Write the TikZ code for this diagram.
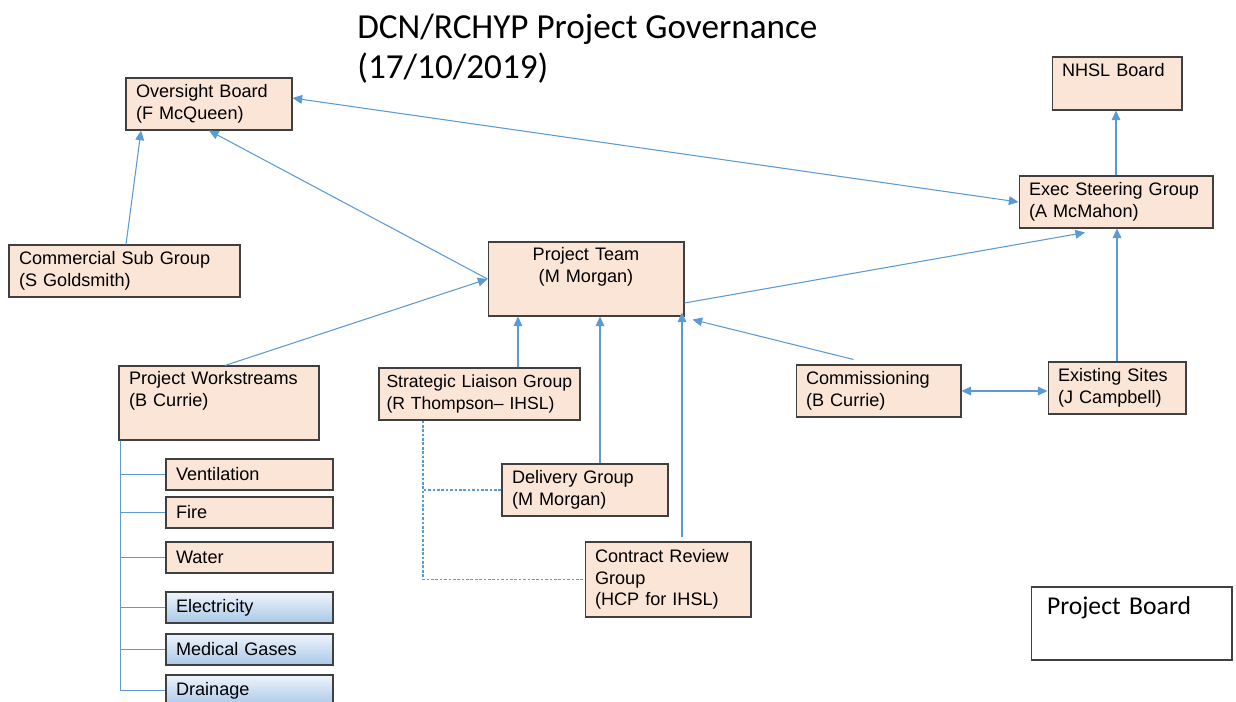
\documentclass[tikz,border=0pt]{standalone}
\usepackage{fontspec}
\setmainfont{Liberation Sans}
\newfontfamily\calfont{Carlito}
\usepackage{tikz}
\usetikzlibrary{arrows.meta}

\definecolor{peach}{HTML}{FBE5D6}
\definecolor{edgegray}{HTML}{404040}
\definecolor{linkblue}{HTML}{5B9BD5}
\definecolor{skytop}{HTML}{EEF4FB}
\definecolor{skybot}{HTML}{A9C8E8}

\tikzset{
  unit/.style={draw=edgegray,fill=peach,line width=.6pt,inner xsep=.2cm,inner ysep=0pt,
    align=left,font=\fontsize{10.3}{12.2}\selectfont},
  subunit/.style={unit,text width=2.94cm,minimum height=.62cm},
  bluesub/.style={subunit,fill=none,top color=skytop,bottom color=skybot},
  link/.style={draw=linkblue,line width=.6pt},
  dotlink/.style={draw=linkblue,line width=.6pt,dash pattern=on 1.5pt off 1pt},
}

\begin{document}
\begin{tikzpicture}[x=0.02cm,y=-0.02cm,>={Triangle[length=5.5pt,width=5pt]}]
\useasboundingbox (0,0) rectangle (1236,701);
\clip (0,0) rectangle (1236,701);
\fill[white] (0,0) rectangle (1236,701);

\node (title) [anchor=north west,inner sep=0pt,align=left,font=\calfont\fontsize{20}{22.7}\selectfont] at (357,14) {DCN/RCHYP Project Governance\\(17/10/2019)};

\node (over) [unit,text width=2.92cm,minimum height=1.04cm] at (209,104) {Oversight Board\\(F McQueen)};
\node (nhsl) [unit,text width=2.2cm,minimum height=1.06cm] at (1117,83.5) {NHSL Board\\\strut};
\node (exec) [unit,text width=3.48cm,minimum height=1.04cm] at (1116,202) {Exec Steering Group\\(A McMahon)};
\node (comm) [unit,text width=4.22cm,minimum height=1.04cm] at (124.5,271) {Commercial Sub Group\\(S Goldsmith)};
\node (team) [unit,text width=3.52cm,minimum height=1.48cm,align=center] at (586,279) {Project Team\\(M Morgan)\\\strut};
\node (work) [unit,text width=3.6cm,minimum height=1.48cm] at (219,403) {Project Workstreams\\(B Currie)\\\strut};
\node (slg) [unit,inner xsep=.15cm,text width=3.72cm,minimum height=1.04cm,font=\fontsize{10}{12.2}\selectfont] at (479.5,394) {Strategic Liaison Group\\(R Thompson– IHSL)};
\node (cmsn) [unit,text width=2.9cm,minimum height=1.04cm] at (878.5,391) {Commissioning\\(B Currie)};
\node (exist) [unit,text width=2.36cm,minimum height=1.04cm] at (1117,388) {Existing Sites\\(J Campbell)};
\node (deliv) [unit,text width=2.92cm,minimum height=1.04cm] at (585,490) {Delivery Group\\(M Morgan)};
\node (crg) [unit,text width=2.92cm,minimum height=1.5cm] at (668,579.5) {Contract Review\\Group\\(HCP for IHSL)};

\node (vent) [subunit] at (249.5,474.5) {Ventilation};
\node (fire) [subunit] at (249.5,512.5) {Fire};
\node (water) [subunit] at (249.5,557.5) {Water};
\node (elec) [bluesub] at (249.5,607.5) {Electricity};
\node (gas) [bluesub] at (249.5,649.5) {Medical Gases};
\node (drain) [bluesub] at (249.5,690.5) {Drainage};

\node (pboard) [draw=edgegray,line width=.6pt,fill=white,inner xsep=.32cm,inner ysep=0pt,text width=3.38cm,minimum height=1.46cm,align=left,font=\calfont\fontsize{14.6}{16}\selectfont] at (1131.5,623.5) {Project Board\\\strut};

% links between groups
\draw[link,<->] ([yshift=.12cm]over.east) -- (exec.west);
\draw[link,->] ([xshift=.03cm]comm.north) -- ([xshift=-1.36cm]over.south);
\draw[link,->] (team.west) -- (over.south);
\draw[link,->] ([xshift=.12cm]work.north) -- (team.west);
\draw[link,->] ([yshift=-.48cm]team.east) -- ([xshift=-.62cm,yshift=-.08cm]exec.south);
\draw[link,->] ([xshift=-.5cm,yshift=.1cm]cmsn.north) -- ([xshift=.16cm,yshift=-.06cm]team.south east);
\draw[link,->] (exist.north) -- (exist.north |- exec.south);
\draw[link,->] (exec.north) -- (exec.north |- nhsl.south);
\draw[link,<->] (cmsn.east) -- (cmsn.east -| exist.west);
\draw[link,->] ([xshift=.77cm]slg.north) -- ([xshift=.77cm]slg.north |- team.south);
\draw[link,->] ([xshift=.3cm]deliv.north) -- ([xshift=.3cm]deliv.north |- team.south);
\draw[link,->] ([xshift=.28cm,yshift=.08cm]crg.north) -- ([xshift=.28cm,yshift=.08cm]crg.north |- team.south);

% dotted reporting lines
\coordinate (d0) at ([xshift=-1.13cm]slg.south);
\draw[dotlink] (d0) |- (deliv.west);
\draw[dotlink] (d0) |- (crg.west);

% workstreams
\coordinate (w0) at ([xshift=.04cm]work.south west);
\draw[link] (w0) |- (vent.west);
\draw[link] (w0) |- (fire.west);
\draw[link] (w0) |- (water.west);
\draw[link] (w0) |- (elec.west);
\draw[link] (w0) |- (gas.west);
\draw[link] (w0) |- (drain.west);
\end{tikzpicture}
\end{document}
